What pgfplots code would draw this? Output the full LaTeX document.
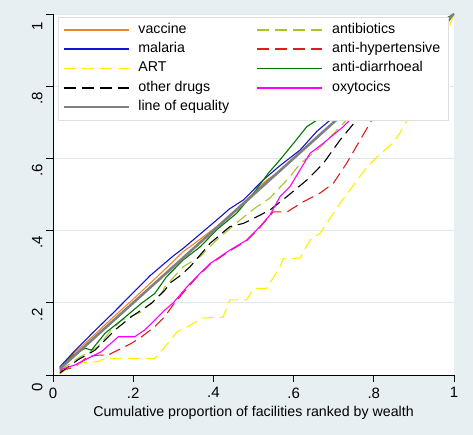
\documentclass[border=0pt]{standalone}
\usepackage{pgfplots}
\pgfplotsset{compat=1.18}
\usepackage{fontspec}
\setmainfont{Liberation Sans}
\definecolor{bgc}{RGB}{232,239,242}
\definecolor{gridc}{RGB}{222,231,236}
\definecolor{cvac}{RGB}{240,130,40}
\definecolor{cmal}{RGB}{20,20,200}
\definecolor{cart}{RGB}{255,240,0}
\definecolor{ceq}{RGB}{128,128,128}
\definecolor{cabx}{RGB}{160,200,40}
\definecolor{chyp}{RGB}{220,30,30}
\definecolor{cdia}{RGB}{0,120,0}
\definecolor{coxy}{RGB}{255,0,255}
\newcommand{\legtxt}[1]{\makebox[110pt][l]{#1}}
\begin{document}
\begin{tikzpicture}
\fill[bgc] (-53pt,-60pt) rectangle (420pt,375pt);
\begin{axis}[
  scale only axis, width=401pt, height=361pt,
  xmin=0, xmax=1, ymin=0, ymax=1,
  axis lines*=left,
  axis line style={black, line width=0.8pt},
  axis background/.style={fill=white},
  ymajorgrids, grid style={gridc, line width=0.7pt},
  xtick={0,0.2,0.4,0.6,0.8,1}, xticklabels={0,.2,.4,.6,.8,1},
  ytick={0,0.2,0.4,0.6,0.8,1}, yticklabels={0,.2,.4,.6,.8,1},
  tick align=outside, major tick length=7pt,
  tick style={black, line width=0.8pt},
  /pgf/number format/assume math mode=true,
  ticklabel style={font=\fontsize{15}{15}\selectfont},
  yticklabel style={rotate=90, anchor=south, xshift=-12pt},
  xticklabel style={yshift=-2pt},
  xlabel={Cumulative proportion of facilities ranked by wealth},
  xlabel style={font=\fontsize{14.2}{15}\selectfont, yshift=-1pt},
  legend columns=2,
  legend cell align=left,
  legend style={at={(0.0125,0.992)}, anchor=north west, draw=gray!25, fill=white,
    font=\fontsize{14.2}{15}\selectfont, inner sep=4.5pt, row sep=2.2pt,
    nodes={inner sep=2pt, text height=10pt, text depth=3pt},
    /tikz/every odd column/.append style={column sep=7pt},
    /tikz/every even column/.append style={column sep=6pt}},
  legend image code/.code={\draw[#1, line width=1.7pt] (0pt,0pt) -- (65pt,0pt);},
  every axis plot/.append style={line width=1.1pt},
]
\addplot[cvac] coordinates {(0.017,0.02)(0.05,0.058)(0.1,0.108)(0.15,0.16)(0.2,0.21)(0.25,0.262)(0.3,0.315)(0.325,0.342)(0.35,0.362)(0.408,0.411)(0.45,0.452)(0.491,0.494)(0.533,0.54)(0.566,0.565)(0.6,0.6)(0.65,0.648)(0.7,0.7)(0.8,0.8)(0.9,0.9)(1,1)};
\addlegendentry{\legtxt{vaccine}}
\addplot[cabx, dash pattern=on 12pt off 6pt] coordinates {(0.017,0.012)(0.06,0.045)(0.112,0.078)(0.146,0.125)(0.171,0.152)(0.221,0.175)(0.271,0.226)(0.279,0.244)(0.325,0.3)(0.367,0.328)(0.408,0.374)(0.466,0.429)(0.508,0.466)(0.541,0.49)(0.566,0.52)(0.59,0.548)(0.616,0.585)(0.666,0.63)(0.732,0.706)(0.8,0.8)(0.9,0.92)(1,1)};
\addlegendentry{\legtxt{antibiotics}}
\addplot[cmal] coordinates {(0.017,0.022)(0.05,0.062)(0.1,0.118)(0.15,0.172)(0.2,0.228)(0.242,0.275)(0.3,0.33)(0.325,0.351)(0.408,0.429)(0.44,0.46)(0.475,0.485)(0.524,0.54)(0.566,0.58)(0.616,0.623)(0.658,0.675)(0.691,0.706)(0.75,0.77)(0.85,0.87)(1,1)};
\addlegendentry{\legtxt{malaria}}
\addplot[chyp, dash pattern=on 12pt off 6pt] coordinates {(0.017,0.01)(0.055,0.023)(0.087,0.051)(0.112,0.055)(0.137,0.055)(0.171,0.074)(0.196,0.088)(0.221,0.106)(0.254,0.134)(0.279,0.162)(0.3,0.195)(0.334,0.24)(0.358,0.27)(0.392,0.307)(0.441,0.344)(0.483,0.372)(0.516,0.409)(0.549,0.452)(0.584,0.452)(0.623,0.479)(0.666,0.504)(0.699,0.531)(0.732,0.586)(0.766,0.651)(0.795,0.706)(0.9,0.85)(1,1)};
\addlegendentry{\legtxt{anti-hypertensive}}
\addplot[cart, dash pattern=on 12pt off 6pt] coordinates {(0.017,0.003)(0.037,0.02)(0.055,0.028)(0.071,0.034)(0.112,0.037)(0.13,0.046)(0.254,0.046)(0.279,0.078)(0.31,0.12)(0.334,0.133)(0.374,0.158)(0.424,0.16)(0.441,0.208)(0.483,0.208)(0.5,0.24)(0.533,0.24)(0.566,0.3)(0.574,0.322)(0.616,0.324)(0.641,0.374)(0.666,0.393)(0.716,0.476)(0.783,0.576)(0.808,0.604)(0.848,0.643)(0.865,0.67)(0.883,0.706)(0.95,0.85)(1,1)};
\addlegendentry{\legtxt{ART}}
\addplot[cdia] coordinates {(0.017,0.018)(0.05,0.055)(0.08,0.074)(0.096,0.069)(0.13,0.116)(0.171,0.152)(0.221,0.199)(0.254,0.226)(0.283,0.272)(0.325,0.319)(0.367,0.355)(0.408,0.402)(0.458,0.448)(0.5,0.503)(0.537,0.559)(0.566,0.596)(0.6,0.642)(0.633,0.688)(0.658,0.706)(0.7,0.77)(0.8,0.88)(1,1)};
\addlegendentry{\legtxt{anti-diarrhoeal}}
\addplot[black, dash pattern=on 12pt off 6pt] coordinates {(0.017,0.005)(0.062,0.042)(0.105,0.069)(0.13,0.097)(0.155,0.125)(0.196,0.162)(0.246,0.199)(0.279,0.235)(0.292,0.255)(0.317,0.275)(0.342,0.3)(0.392,0.365)(0.441,0.411)(0.475,0.42)(0.508,0.438)(0.541,0.457)(0.583,0.494)(0.633,0.54)(0.674,0.586)(0.716,0.651)(0.757,0.706)(0.85,0.82)(1,1)};
\addlegendentry{\legtxt{other drugs}}
\addplot[coxy] coordinates {(0.017,0.014)(0.055,0.028)(0.08,0.042)(0.121,0.065)(0.163,0.106)(0.204,0.106)(0.229,0.125)(0.254,0.152)(0.279,0.18)(0.3,0.2)(0.334,0.244)(0.358,0.272)(0.392,0.309)(0.441,0.346)(0.483,0.374)(0.516,0.411)(0.541,0.443)(0.566,0.494)(0.591,0.522)(0.641,0.614)(0.674,0.642)(0.724,0.688)(0.74,0.706)(0.85,0.85)(0.97,0.97)(1,1)};
\addlegendentry{\legtxt{oxytocics}}
\addplot[ceq, line width=2.6pt] coordinates {(0.017,0.017)(1,1)};
\addlegendentry{\legtxt{line of equality}}
\end{axis}
\pgfresetboundingbox
\path[use as bounding box] (-53pt,-60pt) rectangle (420pt,375pt);
\end{tikzpicture}
\end{document}
